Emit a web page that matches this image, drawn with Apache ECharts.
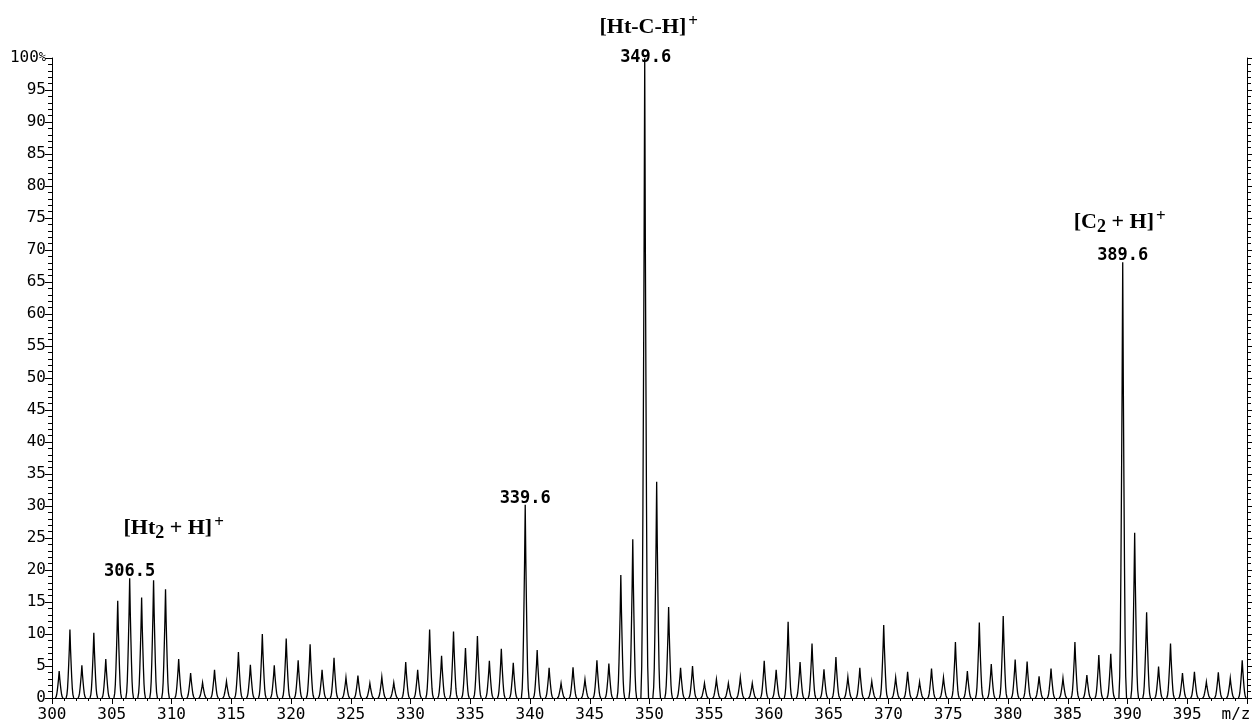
<!DOCTYPE html>
<html>
<head>
<meta charset="utf-8">
<script src="https://cdn.jsdelivr.net/npm/echarts@6/dist/echarts.min.js"></script>
<style>
html,body{margin:0;padding:0;background:#fff;}
#chart{width:1255px;height:723px;}
</style>
</head>
<body>
<div id="chart"></div>
<script>
// ---- data ----
const peakMz = [
  300.6, 301.5, 302.5, 303.5, 304.5, 305.5, 306.5, 307.5, 308.5, 309.5,
  310.6, 311.6, 312.6, 313.6, 314.6, 315.6, 316.6, 317.6, 318.6, 319.6,
  320.6, 321.6, 322.6, 323.6, 324.6, 325.6, 326.6, 327.6, 328.6, 329.6,
  330.6, 331.6, 332.6, 333.6, 334.6, 335.6, 336.6, 337.6, 338.6, 339.6,
  340.6, 341.6, 342.6, 343.6, 344.6, 345.6, 346.6, 347.6, 348.6, 349.6,
  350.6, 351.6, 352.6, 353.6, 354.6, 355.6, 356.6, 357.6, 358.6, 359.6,
  360.6, 361.6, 362.6, 363.6, 364.6, 365.6, 366.6, 367.6, 368.6, 369.6,
  370.6, 371.6, 372.6, 373.6, 374.6, 375.6, 376.6, 377.6, 378.6, 379.6,
  380.6, 381.6, 382.6, 383.6, 384.6, 385.6, 386.6, 387.6, 388.6, 389.6,
  390.6, 391.6, 392.6, 393.6, 394.6, 395.6, 396.6, 397.6, 398.6, 399.6
];
const peakIntensity = [
  4.2, 10.7, 5.1, 10.2, 6.1, 15.2, 18.7, 15.7, 18.4, 17.0,
  6.1, 3.9, 2.4, 4.4, 2.6, 7.2, 5.2, 10.0, 5.1, 9.3,
  5.9, 8.4, 4.4, 6.3, 3.2, 3.5, 2.3, 3.3, 2.4, 5.6,
  4.4, 10.7, 6.6, 10.4, 7.8, 9.7, 5.8, 7.7, 5.5, 30.2,
  7.5, 4.7, 2.3, 4.8, 2.9, 5.9, 5.4, 19.2, 24.8, 100,
  33.8, 14.2, 4.7, 5.0, 2.3, 2.9, 2.3, 3.2, 2.3, 5.8,
  4.4, 11.9, 5.6, 8.5, 4.5, 6.4, 3.3, 4.7, 2.6, 11.4,
  3.2, 4.1, 2.5, 4.6, 3.2, 8.75, 4.2, 11.8, 5.3, 12.8,
  6.0, 5.7, 3.4, 4.6, 3.1, 8.75, 3.6, 6.7, 6.9, 68.1,
  25.8, 13.4, 4.9, 8.5, 3.9, 4.1, 2.5, 4.0, 3.1, 5.9
];
// labelled peaks
const labelMz = [306.5, 339.6, 349.6, 389.6];
const labelIntensity = [18.7, 30.2, 100, 68.1];
const labelText = ['306.5', '339.6', '349.6', '389.6'];
// ion annotations (rich-text markup: sub / sup)
const ionMz = [306.5, 349.6, 389.6];
const ionIntensity = [18.7, 100, 68.1];
const ionText = ['[Ht{sub|2} + H]{sup|+}', '[Ht-C-H]{sup|+}', '[C{sub|2} + H]{sup|+}'];
// axis ticks
const xMin = 300, xMax = 400, xStep = 5;
const yMin = 0, yMax = 100, yStep = 5;
const xEndLabel = 'm/z';

// ---- styles ----
const labelOffsets = [[0, 4], [0, 4], [1, 10], [0, 4]];
const ionOffsets = [[44, -50], [4, -31], [-3, -40]];
const profDx = [0, 0.05, 0.1, 0.15, 0.2, 0.25, 0.32];
const profF  = [1, 0.72, 0.5, 0.3, 0.14, 0.05, 0];
const monoFont = '"DejaVu Sans Mono", "Liberation Mono", monospace';
const serifFont = '"Liberation Serif", "DejaVu Serif", serif';

const chart = echarts.init(document.getElementById('chart'), null, {renderer: 'canvas'});

function renderPeak(params, api) {
  const c = api.value(0), h = api.value(1);
  const pts = [];
  for (let k = profDx.length - 1; k >= 0; k--) pts.push(api.coord([c - profDx[k], h * profF[k]]));
  for (let k = 1; k < profDx.length; k++) pts.push(api.coord([c + profDx[k], h * profF[k]]));
  return {
    type: 'polyline',
    shape: {points: pts},
    style: {stroke: '#000', lineWidth: 1.3, fill: null}
  };
}

const yAxisCommon = {
  type: 'value', min: yMin, max: yMax, interval: yStep,
  splitLine: {show: false},
  axisLine: {show: true, onZero: false, lineStyle: {color: '#000', width: 1}},
  minorTick: {show: true, splitNumber: 5, length: 4, lineStyle: {color: '#000'}},
  minorSplitLine: {show: false}
};

const option = {
  backgroundColor: '#fff',
  animation: false,
  grid: {left: 52, right: 8, top: 58, bottom: 25, containLabel: false},
  xAxis: {
    type: 'value', min: xMin, max: xMax, interval: xStep,
    splitLine: {show: false},
    axisLine: {show: true, onZero: false, lineStyle: {color: '#000', width: 1.2}},
    axisTick: {show: true, length: 6, lineStyle: {color: '#000'}},
    minorTick: {show: true, splitNumber: 5, length: 3, lineStyle: {color: '#000'}},
    axisLabel: {
      show: true, showMinLabel: true, showMaxLabel: true, margin: 9,
      color: '#000', fontFamily: monoFont, fontSize: 16,
      formatter: v => v === xMax ? '{mz|' + xEndLabel + '}' : String(v),
      rich: {mz: {fontFamily: monoFont, fontSize: 16, color: '#000', padding: [0, 22, 0, 0]}}
    }
  },
  yAxis: [
    Object.assign({}, yAxisCommon, {
      position: 'left',
      axisTick: {show: true, length: 7, lineStyle: {color: '#000'}},
      axisLabel: {
        show: true, margin: 6, color: '#000', fontFamily: monoFont, fontSize: 16,
        formatter: v => v === yMax ? v + '{p|%}' : String(v),
        rich: {p: {fontFamily: monoFont, fontSize: 12, color: '#000'}}
      }
    }),
    Object.assign({}, yAxisCommon, {
      position: 'right',
      axisTick: {show: true, length: 5, lineStyle: {color: '#000'}},
      axisLabel: {show: false}
    })
  ],
  series: [
    {
      type: 'custom',
      renderItem: renderPeak,
      clip: true,
      data: peakMz.map((m, i) => [m, peakIntensity[i]]),
      silent: true
    },
    {
      type: 'scatter',
      symbolSize: 0,
      silent: true,
      itemStyle: {opacity: 1, color: '#000'},
      data: labelMz.map((m, i) => ({
        value: [m, labelIntensity[i]],
        name: labelText[i],
        label: {offset: labelOffsets[i]}
      })),
      label: {
        show: true, position: 'top', distance: 2, opacity: 1,
        formatter: p => p.name,
        color: '#000', fontFamily: monoFont, fontSize: 17, fontWeight: 'bold'
      }
    },
    {
      type: 'scatter',
      symbolSize: 0,
      silent: true,
      itemStyle: {opacity: 1, color: '#000'},
      data: ionMz.map((m, i) => ({
        value: [m, ionIntensity[i]],
        name: ionText[i],
        label: {offset: ionOffsets[i]}
      })),
      label: {
        show: true, position: 'inside', opacity: 1, color: '#000',
        formatter: p => '{t|' + p.name.replace(/\{(sub|sup)\|([^}]*)\}/g, '}{$1|$2}{t|') + '}',
        rich: {
          t: {fontFamily: serifFont, fontSize: 22, fontWeight: 'bold', color: '#000'},
          sub: {fontFamily: serifFont, fontSize: 18, fontWeight: 'bold', color: '#000', padding: [10, 0, 0, 0]},
          sup: {fontFamily: serifFont, fontSize: 17, fontWeight: 'bold', color: '#000', padding: [0, 0, 11, 2]}
        }
      }
    }
  ]
};
chart.setOption(option);
</script>
</body>
</html>
